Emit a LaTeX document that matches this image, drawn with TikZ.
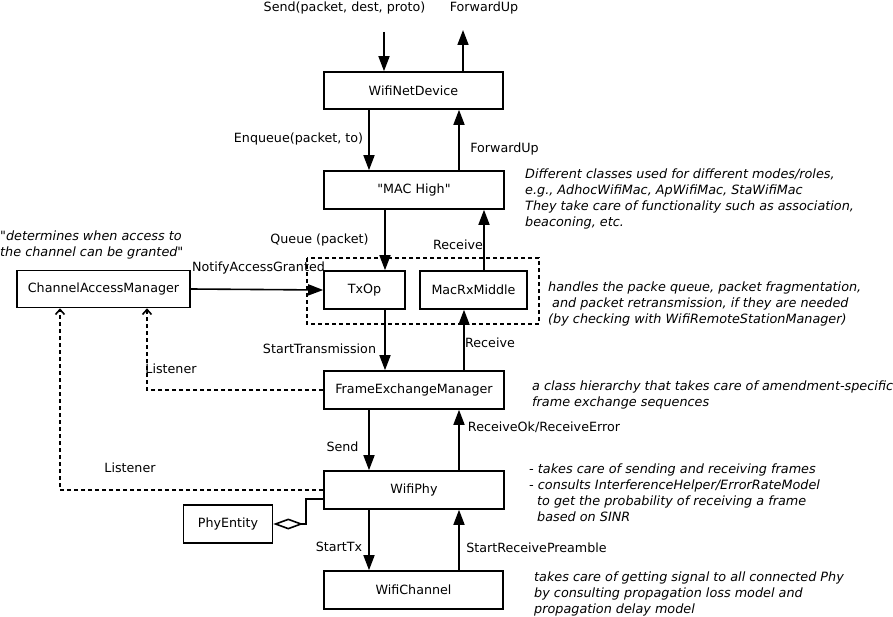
\documentclass[tikz,border=0pt]{standalone}
\usepackage{fontspec}
\setmainfont{DejaVu Sans}[Ligatures=TeXOff]
\usetikzlibrary{arrows.meta}
\begin{document}
\begin{tikzpicture}[x=1pt,y=-1pt,
  box/.style={draw, line width=1.6pt, inner sep=0pt, font=\fontsize{12.7}{16}\selectfont},
  lbl/.style={inner sep=0pt, yshift=-1.5pt, font=\fontsize{12.7}{16}\selectfont},
  note/.style={inner sep=0pt, yshift=-2pt, anchor=north west, align=left, font=\fontsize{12.8}{16}\selectfont\itshape},
  arr/.style={line width=1.6pt, -{Triangle[length=15pt,width=11pt]}},
  lsn/.style={line width=1.6pt, dash pattern=on 4pt off 3pt, -{Straight Barb[length=5pt,width=9pt,line width=1.6pt]}},
  grpbox/.style={line width=1.6pt, dash pattern=on 4pt off 3pt}
]
\useasboundingbox (0,0) rectangle (893,617);

% boxes
\node[box, minimum width=179pt, minimum height=37pt] (wnd) at (413.5,90.5) {WifiNetDevice};
\node[box, minimum width=180pt, minimum height=38pt] (mach) at (414,190) {"MAC High"};
\node[box, minimum width=81pt, minimum height=38pt] (txop) at (364.5,290) {TxOp};
\node[box, minimum width=107pt, minimum height=38pt] (mrx) at (473.5,290) {MacRxMiddle};
\node[box, minimum width=180pt, minimum height=38pt] (fem) at (414,390) {FrameExchangeManager};
\node[box, minimum width=180pt, minimum height=38pt] (phy) at (414,490) {WifiPhy};
\node[box, minimum width=179pt, minimum height=38pt] (chan) at (413.5,590) {WifiChannel};
\node[box, minimum width=173pt, minimum height=37pt] (cam) at (103.5,289) {ChannelAccessManager};
\node[box, minimum width=89pt, minimum height=38pt] (pent) at (228,524) {PhyEntity};

% group of TxOp and MacRxMiddle
\draw[grpbox] (307,258) rectangle (539,324);

% column coordinates
\coordinate (cA) at (385,0);
\coordinate (cB) at (369,0);
\coordinate (cC) at (459,0);
\coordinate (cD) at (464,0);
\coordinate (cE) at (484,0);
\coordinate (sendin) at (384,32);
\coordinate (fwdout) at (463,30);
\coordinate (l1) at (147,0);
\coordinate (l2) at (60,0);
\coordinate (ag) at (306,499);

% connectors
\draw[arr] (sendin) -- (wnd.north -| sendin);
\draw[arr] (wnd.north -| fwdout) -- (fwdout);
\draw[arr] (wnd.south -| cB) -- (mach.north -| cB);
\draw[arr] (mach.north -| cC) -- (wnd.south -| cC);
\draw[arr] (mach.south -| cA) -- (txop.north -| cA);
\draw[arr] (mrx.north -| cE) -- (mach.south -| cE);
\draw[arr] (cam.east) -- (txop.west);
\draw[arr] (txop.south -| cA) -- (fem.north -| cA);
\draw[arr] (fem.north -| cD) -- (mrx.south -| cD);
\draw[arr] (fem.south -| cB) -- (phy.north -| cB);
\draw[arr] (phy.north -| cC) -- (fem.south -| cC);
\draw[arr] (phy.south -| cB) -- (chan.north -| cB);
\draw[arr] (chan.north -| cC) -- (phy.south -| cC);
\draw[lsn] (fem.west) -| (cam.south -| l1);
\draw[lsn] (phy.west) -| (cam.south -| l2);
\draw[line width=1.6pt, -{Diamond[open,length=30pt,width=11pt,line width=1.6pt]}] (phy.west |- ag) -- (ag) |- (pent.east);

% connector labels
\node[lbl] (tSend) at (344.5,7) {Send(packet, dest, proto)};
\node[lbl] (tFwd1) at (484,7) {ForwardUp};
\node[lbl] (tEnq) at (298.5,137) {Enqueue(packet, to)};
\node[lbl] (tFwd2) at (504.5,147) {ForwardUp};
\node[lbl] (tQueue) at (319.5,238) {Queue (packet)};
\node[lbl] (tRecv1) at (458,243) {Receive};
\node[lbl] (tNotify) at (258.5,266) {NotifyAccessGranted};
\node[lbl] (tStartTr) at (319.5,347) {StartTransmission};
\node[lbl] (tRecv2) at (490,341) {Receive};
\node[lbl] (tLis1) at (171,367) {Listener};
\node[lbl] (tSend2) at (342.5,445) {Send};
\node[lbl] (tRxOk) at (544,426) {ReceiveOk/ReceiveError};
\node[lbl] (tLis2) at (130,466) {Listener};
\node[lbl] (tStartTx) at (339,545) {StartTx};
\node[lbl] (tStartRx) at (536.5,546) {StartReceivePreamble};

% notes
\node[note] (nCam) at (0,229) {{\upshape"}determines when access to\\the channel can be granted{\upshape"}};
\node[note] (nMac) at (525,167) {Different classes used for different modes/roles,\\e.g., AdhocWifiMac, ApWifiMac, StaWifiMac\\They take care of functionality such as association,\\beaconing, etc.};
\node[note] (nTx) at (548,280) {handles the packe queue, packet fragmentation,\\\hspace*{4pt}and packet retransmission, if they are needed\\(by checking with WifiRemoteStationManager)};
\node[note] (nFem) at (532,379) {a class hierarchy that takes care of amendment-specific\\frame exchange sequences};
\node[note] (nPhy) at (529,462) {- takes care of sending and receiving frames\\- consults InterferenceHelper/ErrorRateModel\\\hspace*{8pt}to get the probability of receiving a frame\\\hspace*{8pt}based on SINR};
\node[note] (nChan) at (534,570) {takes care of getting signal to all connected Phy\\by consulting propagation loss model and\\propagation delay model};
\end{tikzpicture}
\end{document}
